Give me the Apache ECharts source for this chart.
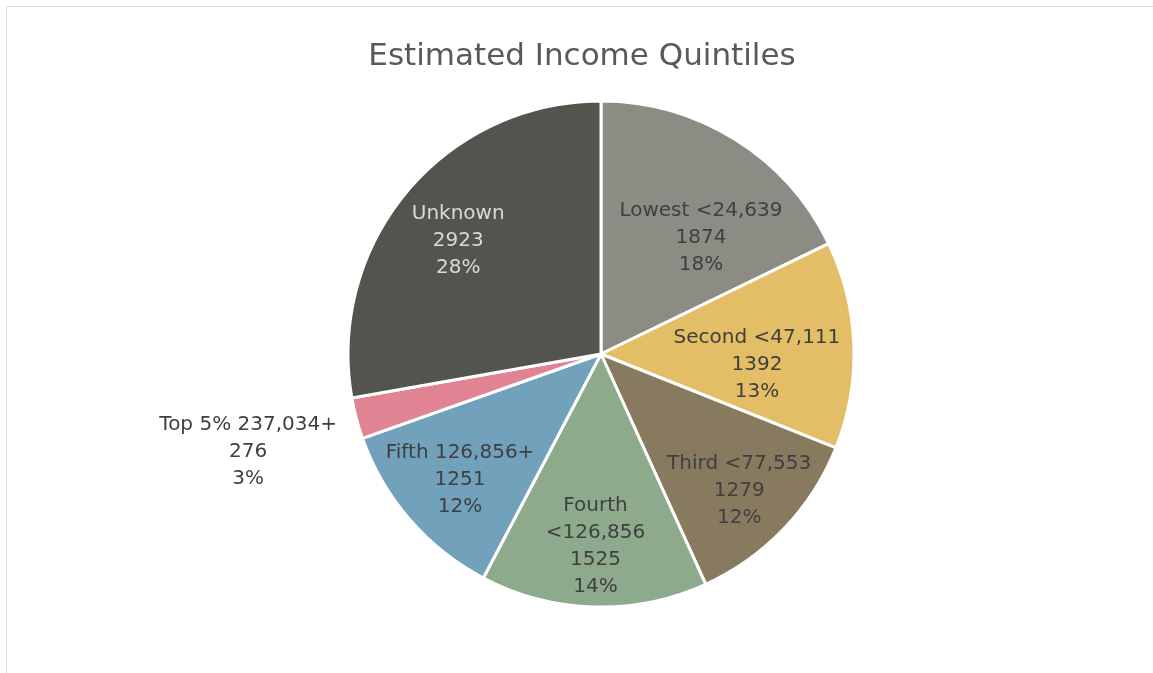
<!DOCTYPE html>
<html>
<head>
<meta charset="utf-8">
<script src="https://cdn.jsdelivr.net/npm/echarts@6/dist/echarts.min.js"></script>
<style>
  html, body { margin: 0; padding: 0; background: #fff; }
  #chart { width: 1153px; height: 673px; }
</style>
</head>
<body>
<div id="chart"></div>
<script>
// Quintile categories, household counts and slice colours
const categories = ['Lowest <24,639', 'Second <47,111', 'Third <77,553', 'Fourth\n<126,856', 'Fifth 126,856+', 'Top 5% 237,034+', 'Unknown'];
const counts = [1874, 1392, 1279, 1525, 1251, 276, 2923];
const colors = ['#8c8c84', '#e4be66', '#877a5f', '#8dab8c', '#72a1bc', '#e08393', '#53544e'];
const labelColors = ['#3f3f3f', '#3f3f3f', '#3f3f3f', '#3f3f3f', '#3f3f3f', '#3f3f3f', '#d9d9d9'];
// label placement: distance from the centre as a share of the radius, and a small turn (degrees)
const labelReach = [0.605, 0.618, 0.769, 0.759, 0.747, 1.447, 0.719];
const labelTurn = [8.7, 6.1, 1.1, 0, -0.9, -0.7, -1.7];

const CX = 601, CY = 354, R = 253;
const FONT = 'DejaVu Sans';
const total = counts.reduce((a, b) => a + b, 0);

// mid-angle of each slice, clockwise from 12 o'clock
const midAngles = [];
let acc = 0;
counts.forEach(v => { midAngles.push((acc + v / 2) / total * 360); acc += v; });

const chart = echarts.init(document.getElementById('chart'), null, { renderer: 'canvas' });
chart.setOption({
  animation: false,
  title: {
    text: 'Estimated Income Quintiles',
    left: 577, top: 36, textAlign: 'center',
    textStyle: { fontFamily: FONT, fontWeight: 'normal', fontSize: 31, color: '#595959' }
  },
  graphic: [{
    type: 'rect', silent: true,
    shape: { x: 6.5, y: 6.5, width: 1160, height: 680 },
    style: { fill: 'none', stroke: '#d9d9d9', lineWidth: 1 }
  }],
  series: [{
    type: 'pie',
    center: [CX, CY],
    radius: [0, R],
    startAngle: 90,
    clockwise: true,
    label: {
      show: true,
      position: 'inside',
      fontFamily: FONT,
      fontSize: 20,
      lineHeight: 27,
      align: 'center',
      formatter: p => p.name + '\n' + p.value + '\n' + Math.round(p.value / total * 100) + '%'
    },
    labelLine: { show: false },
    labelLayout: p => {
      const i = p.dataIndex;
      const a = (midAngles[i] + labelTurn[i]) * Math.PI / 180;
      const d = labelReach[i] * R;
      return {
        x: CX + d * Math.sin(a),
        y: CY - d * Math.cos(a),
        align: 'center',
        verticalAlign: 'middle'
      };
    },
    itemStyle: { borderColor: '#ffffff', borderWidth: 3 },
    data: categories.map((name, i) => ({
      name, value: counts[i],
      itemStyle: { color: colors[i] },
      label: { color: labelColors[i] }
    }))
  }]
});
</script>
</body>
</html>
